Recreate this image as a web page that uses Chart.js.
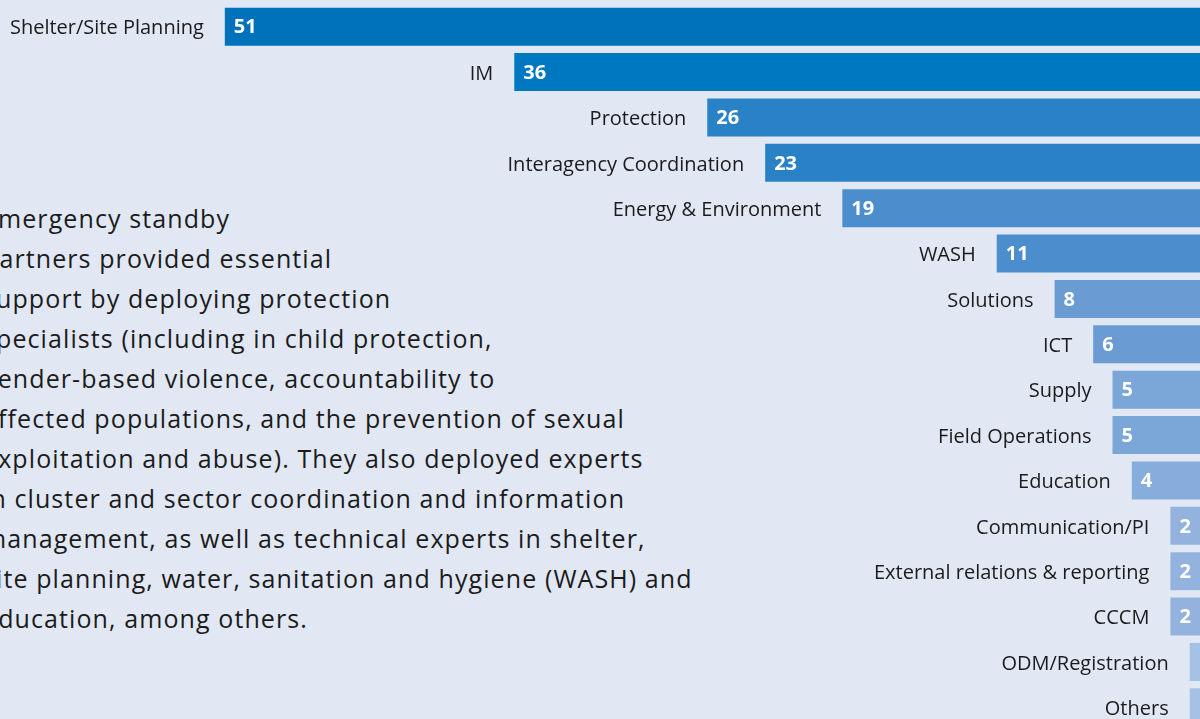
<!DOCTYPE html>
<html>
<head>
<meta charset="utf-8">
<script src="https://cdn.jsdelivr.net/npm/chart.js@4"></script>
<style>
  html, body { margin: 0; padding: 0; width: 1200px; height: 719px; overflow: hidden; background: #E1E8F4; }
  #wrap { position: absolute; left: 0; top: 0; width: 1209px; height: 735px; }
  #note {
    position: absolute; left: -17px; top: 198px; width: 800px;
    font-family: "Open Sans", sans-serif; font-size: 25px; letter-spacing: 1.1px;
    line-height: 40px; color: #1b1b1b;
  }
</style>
</head>
<body>
<div id="note">
Emergency standby<br>
partners provided essential<br>
support by deploying protection<br>
specialists (including in child protection,<br>
gender-based violence, accountability to<br>
affected populations, and the prevention of sexual<br>
exploitation and abuse). They also deployed experts<br>
in cluster and sector coordination and information<br>
management, as well as technical experts in shelter,<br>
site planning, water, sanitation and hygiene (WASH) and<br>
education, among others.
</div>
<div id="wrap"><canvas id="mycanvas"></canvas></div>
<script>
var categories = ['Shelter/Site Planning', 'IM', 'Protection', 'Interagency Coordination',
    'Energy & Environment', 'WASH', 'Solutions', 'ICT', 'Supply', 'Field Operations',
    'Education', 'Communication/PI', 'External relations & reporting', 'CCCM',
    'ODM/Registration', 'Others'];
var deployments = [51, 36, 26, 23, 19, 11, 8, 6, 5, 5, 4, 2, 2, 2, 1, 1];
var barColors = ['#0072BC', '#0078C1', '#2A82C6', '#2A82C6', '#4B8DCD', '#4B8DCD',
    '#6A9CD3', '#6A9CD3', '#7BA6D8', '#7BA6D8', '#86ADDB', '#93B3DE', '#93B3DE',
    '#93B3DE', '#A5C1E6', '#A5C1E6'];

//labels left of each bar + value inside
var barLabels = {
    id: 'barLabels',
    afterDatasetsDraw: function(chart) {
        var ctx = chart.ctx;
        var meta = chart.getDatasetMeta(0);
        ctx.save();
        ctx.textBaseline = 'middle';
        meta.data.forEach(function(bar, i) {
            ctx.font = '20px "Open Sans"';
            ctx.fillStyle = '#1b1b1b';
            ctx.textAlign = 'right';
            ctx.fillText(categories[i], bar.x - 21, bar.y + 2);
            ctx.font = 'bold 20px "Open Sans"';
            ctx.fillStyle = '#ffffff';
            ctx.textAlign = 'left';
            ctx.fillText(deployments[i], bar.x + 9, bar.y + 1);
        });
        ctx.restore();
    }
};

new Chart(document.getElementById('mycanvas'), {
    type: 'bar',
    data: {
        labels: categories,
        datasets: [{
            data: deployments,
            backgroundColor: barColors,
            borderWidth: 0,
            categoryPercentage: 1,
            barPercentage: 0.84
        }]
    },
    options: {
        indexAxis: 'y',
        responsive: true,
        maintainAspectRatio: false,
        animation: false,
        layout: { padding: { top: 4, bottom: 5, left: 0, right: 0 } },
        plugins: { legend: { display: false }, tooltip: { enabled: false } },
        scales: {
            x: { display: false, reverse: true, min: 0, max: 62.65 },
            y: { display: false }
        }
    },
    plugins: [barLabels]
});
</script>
</body>
</html>
